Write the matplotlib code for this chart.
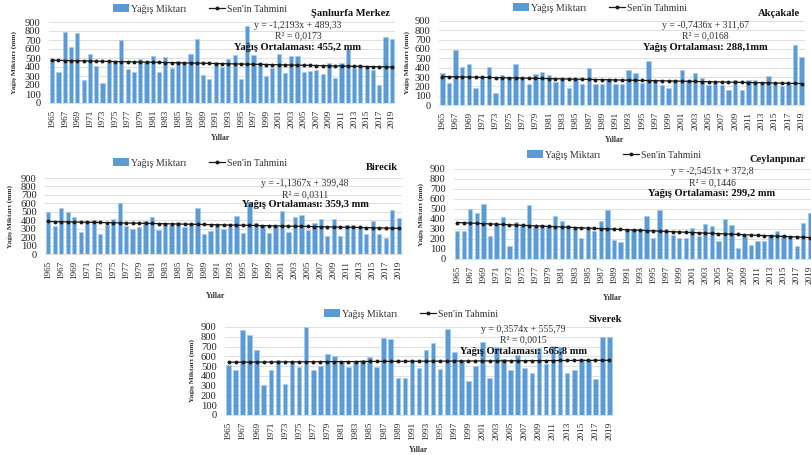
import numpy as np
import matplotlib
matplotlib.use("Agg")
import matplotlib.pyplot as plt
from matplotlib.patches import Patch
from matplotlib.lines import Line2D

plt.rcParams["font.family"] = ["Liberation Serif", "DejaVu Serif"]

years = list(range(1965, 2020))

# Annual precipitation (mm) per station
sanliurfa = [490, 340, 790, 620, 780, 260, 540, 410, 220, 460,
             460, 700, 380, 350, 490, 460, 520, 350, 510, 390,
             470, 450, 540, 710, 310, 270, 460, 400, 490, 530,
             270, 860, 530, 440, 300, 390, 550, 330, 520, 520,
             340, 360, 370, 320, 450, 280, 440, 600, 390, 410,
             400, 370, 200, 730, 710]
akcakale = [340, 235, 590, 410, 435, 180, 300, 405, 125, 320,
            300, 435, 285, 225, 335, 355, 320, 245, 280, 185,
            280, 225, 400, 225, 220, 280, 225, 230, 380, 345,
            235, 475, 265, 215, 185, 265, 370, 265, 345, 290,
            215, 240, 210, 165, 265, 160, 270, 270, 240, 315,
            230, 200, 230, 645, 515]
birecik = [500, 335, 540, 500, 440, 260, 380, 405, 240, 345,
           420, 605, 335, 295, 320, 395, 440, 280, 360, 340,
           380, 320, 360, 540, 235, 275, 355, 300, 320, 450,
           250, 610, 365, 345, 245, 330, 505, 255, 440, 460,
           290, 370, 410, 210, 410, 210, 345, 345, 305, 235,
           395, 240, 190, 520, 425]
ceylanpinar = [285, 280, 500, 460, 555, 230, 350, 420, 130, 370,
               340, 545, 330, 340, 330, 435, 380, 340, 320, 210,
               310, 280, 380, 490, 195, 175, 295, 300, 300, 435,
               215, 495, 280, 240, 210, 215, 315, 235, 350, 335,
               185, 400, 345, 115, 235, 140, 180, 180, 240, 280,
               240, 235, 135, 360, 460]
siverek = [515, 460, 870, 815, 665, 305, 460, 560, 320, 550,
           490, 895, 465, 500, 620, 605, 545, 495, 555, 560,
           595, 490, 790, 775, 380, 375, 560, 480, 660, 740,
           475, 880, 640, 565, 345, 505, 745, 380, 700, 570,
           460, 615, 480, 425, 690, 525, 705, 700, 430, 465,
           570, 560, 365, 800, 800]

station_names = ["Şanlıurfa Merkez", "Akçakale", "Birecik", "Ceylanpınar", "Siverek"]
equations = ["y = -1,2193x + 489,33", "y = -0,7436x + 311,67", "y = -1,1367x + 399,48",
             "y = -2,5451x + 372,8", "y = 0,3574x + 555,79"]
r_squared = ["0,0173", "0,0168", "0,0311", "0,1446", "0,0015"]
means = ["455,2 mm", "288,1mm", "359,3 mm", "299,2 mm", "565,8 mm"]

# Sen's trend estimate: value at 1965 and slope (mm/yr)
sen_start = [475, 305, 385, 365, 540]
sen_slope = [-1.39, -1.39, -1.48, -2.78, 0.37]

series = [sanliurfa, akcakale, birecik, ceylanpinar, siverek]

W, H = 811, 455
fig = plt.figure(figsize=(W / 100, H / 100), dpi=100)


def fx(x):
    return x / W


def fy(y):
    return 1 - y / H


# Pixel layout of each panel
layouts = [
    dict(rect=(49, 395, 22, 103), legend=(200, 9), title=(390, 13), eq=(298, 25, 36, 47),
         ylab=(15, 63), xlab=(220, 138)),
    dict(rect=(439, 805, 21, 105), legend=(600, 8), title=(800, 13), eq=(705, 25, 36, 47),
         ylab=(408, 63), xlab=(614, 140)),
    dict(rect=(45, 402, 178, 254), legend=(200, 163), title=(398, 168), eq=(305, 184, 195, 205),
         ylab=(11, 216), xlab=(215, 296)),
    dict(rect=(454, 813, 169, 259), legend=(614, 155), title=(806, 159), eq=(712, 172, 183, 194),
         ylab=(422, 214), xlab=(612, 298)),
    dict(rect=(225, 613, 327, 415), legend=(411, 314), title=(622, 319), eq=(523, 329, 340, 352),
         ylab=(193, 370), xlab=(418, 450)),
]

bar_color = "#5b9bd5"
x = np.arange(len(years))

for i, (vals, lay) in enumerate(zip(series, layouts)):
    L, R, T, B = lay["rect"]
    ax = fig.add_axes([fx(L), fy(B), fx(R - L), (B - T) / H])
    ax.bar(x, vals, width=0.66, color=bar_color, edgecolor="#a9cdee", linewidth=0.5, zorder=2)
    sen = sen_start[i] + sen_slope[i] * x
    ax.plot(x, sen, color="#1a1a1a", lw=0.9, marker="o", ms=1.8, zorder=3)
    ax.set_xlim(-0.5, len(years) - 0.5)
    ax.set_ylim(0, 900)
    ax.set_yticks(range(0, 901, 100))
    ax.set_xticks(x[::2])
    ax.set_xticklabels([str(y) for y in years[::2]], rotation=90, fontsize=6.6)
    ax.tick_params(axis="both", length=0, colors="#222222")
    ax.tick_params(axis="y", labelsize=7.6, pad=6)
    ax.tick_params(axis="x", pad=5)
    ax.grid(axis="y", color="#d9d9d9", lw=0.6, zorder=0)
    ax.set_axisbelow(True)
    for s in ["top", "right", "left"]:
        ax.spines[s].set_visible(False)
    ax.spines["bottom"].set_color("#d9d9d9")
    ax.spines["bottom"].set_linewidth(0.6)

    handles = [Patch(facecolor=bar_color, edgecolor="none"),
               Line2D([0], [0], color="#1a1a1a", lw=0.9, marker="o", ms=1.8)]
    lx, ly = lay["legend"]
    fig.legend(handles, ["Yağış Miktarı", "Sen'in Tahmini"], loc="center",
               bbox_to_anchor=(fx(lx), fy(ly)), ncol=2, frameon=False, fontsize=7.2,
               handlelength=1.6, handleheight=0.8, handletextpad=0.2, columnspacing=2.2,
               borderpad=0, labelcolor="#333333")

    tx, ty = lay["title"]
    fig.text(fx(tx), fy(ty), station_names[i], ha="right", va="center",
             fontsize=7.6, fontweight="bold", color="#111111")

    ex, ey1, ey2, ey3 = lay["eq"]
    fig.text(fx(ex), fy(ey1), equations[i], ha="center", va="center", fontsize=7.0, color="#333333")
    fig.text(fx(ex), fy(ey2), "R² = " + r_squared[i], ha="center", va="center",
             fontsize=7.0, color="#333333")
    fig.text(fx(ex), fy(ey3), "Yağış Ortalaması: " + means[i], ha="center", va="center",
             fontsize=7.6, fontweight="bold", color="#111111")

    yx, yy = lay["ylab"]
    fig.text(fx(yx), fy(yy), "Yağış Miktarı (mm)", rotation=90, ha="center", va="center",
             fontsize=5.4, fontweight="bold", color="#333333")
    xx, xy = lay["xlab"]
    fig.text(fx(xx), fy(xy), "Yıllar", ha="center", va="center",
             fontsize=5.6, fontweight="bold", color="#333333")

fig.savefig("out.png", dpi=100)
